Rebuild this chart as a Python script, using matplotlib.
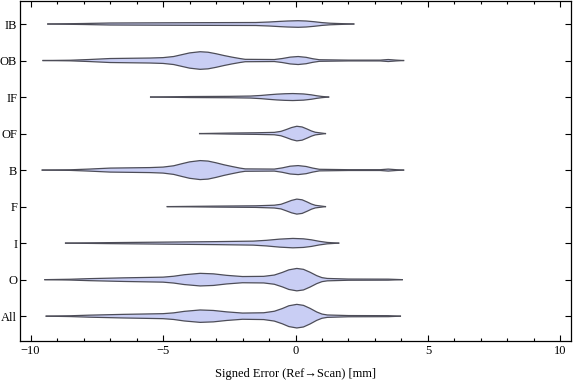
import numpy as np
import matplotlib.pyplot as plt
from matplotlib.ticker import MultipleLocator

# --- Data: violin outlines (x in mm, half-width ~ density) ---
categories = ['All', 'O', 'I', 'F', 'B', 'OF', 'IF', 'OB', 'IB']

profiles = {
    'IB': ([-9.35, -8.0, -7.0, -4.0, -1.5, -1.0, -0.6, -0.3, 0.1, 0.4, 0.7, 1.0, 1.3, 1.6, 2.2],
           [0, 0.5, 1.0, 1.3, 1.5, 2.0, 2.6, 3.0, 3.3, 3.0, 2.3, 1.4, 0.8, 0.5, 0]),
    'OB': ([-9.53, -8.5, -7.8, -7.0, -5.5, -5.0, -4.6, -4.3, -4.0, -3.6, -3.3, -3.0, -2.7,
            -2.4, -2.1, -1.9, -0.8, -0.5, -0.2, 0.1, 0.4, 0.65, 0.9, 2.0, 3.2, 3.5, 3.8, 4.08],
           [0, 0.3, 1.0, 2.0, 2.5, 2.9, 4.0, 5.8, 7.6, 8.8, 8.3, 6.8, 5.0,
            3.4, 2.0, 1.2, 1.0, 2.0, 3.4, 4.0, 3.2, 1.8, 0.8, 0.4, 0.4, 1.0, 0.4, 0]),
    'IF': ([-5.47, -4.0, -2.5, -1.7, -1.3, -1.0, -0.7, -0.4, -0.1, 0.3, 0.6, 0.8, 1.0, 1.25],
           [0, 0.5, 0.7, 1.0, 1.6, 2.3, 2.9, 3.3, 3.5, 3.1, 2.2, 1.3, 0.6, 0]),
    'OF': ([-3.62, -2.5, -1.5, -0.8, -0.55, -0.35, -0.15, 0.05, 0.25, 0.45, 0.6, 0.75, 0.9, 1.13],
           [0, 0.5, 0.8, 1.2, 2.2, 4.0, 6.0, 7.3, 6.6, 4.4, 2.6, 1.3, 0.8, 0]),
    'B': ([-9.56, -8.5, -7.8, -7.0, -5.5, -5.0, -4.6, -4.3, -4.0, -3.6, -3.3, -3.0, -2.7,
           -2.4, -2.1, -1.9, -0.8, -0.5, -0.2, 0.1, 0.4, 0.65, 0.9, 2.0, 3.2, 3.5, 3.8, 4.08],
          [0, 0.3, 1.0, 2.0, 2.5, 3.0, 4.3, 6.3, 8.2, 9.5, 9.0, 7.3, 5.3,
           3.6, 2.0, 1.2, 1.0, 2.2, 3.9, 4.5, 3.6, 2.0, 0.8, 0.4, 0.4, 1.0, 0.4, 0]),
    'F': ([-4.84, -3.0, -1.5, -0.8, -0.55, -0.35, -0.15, 0.05, 0.25, 0.45, 0.6, 0.75, 0.9, 1.13],
          [0, 0.5, 0.8, 1.4, 2.3, 4.2, 6.2, 7.5, 6.8, 4.5, 2.6, 1.3, 0.8, 0]),
    'I': ([-8.68, -7.0, -5.0, -3.0, -1.6, -1.1, -0.6, -0.1, 0.3, 0.6, 0.9, 1.2, 1.63],
          [0, 0.5, 1.0, 1.5, 2.0, 2.8, 4.0, 4.7, 4.3, 3.3, 1.8, 0.7, 0]),
    'O': ([-9.46, -8.5, -7.8, -6.5, -5.0, -4.6, -4.2, -3.6, -3.1, -2.6, -2.0, -1.2, -0.8,
           -0.5, -0.25, 0.05, 0.3, 0.55, 0.8, 1.0, 1.2, 2.0, 3.5, 4.03],
          [0, 0.4, 1.0, 1.8, 2.5, 3.4, 4.9, 6.3, 5.8, 4.3, 3.1, 3.3, 4.6,
           7.2, 9.8, 11.2, 10.3, 7.4, 4.0, 2.0, 1.2, 0.6, 0.5, 0]),
    'All': ([-9.41, -8.5, -7.8, -6.5, -5.0, -4.6, -4.2, -3.6, -3.1, -2.6, -2.0, -1.2, -0.8,
             -0.5, -0.25, 0.05, 0.3, 0.55, 0.8, 1.0, 1.2, 2.0, 3.5, 3.96],
            [0, 0.4, 1.0, 1.8, 2.5, 3.3, 4.8, 6.2, 5.7, 4.3, 3.1, 3.4, 4.9,
             7.6, 10.4, 11.8, 10.8, 7.8, 4.2, 2.1, 1.2, 0.6, 0.5, 0]),
}

WIDTH_SCALE = 1 / 36.5  # density units -> category spacing

plt.rcParams['font.family'] = ['Liberation Serif', 'DejaVu Serif']

fig = plt.figure(figsize=(5.76, 3.81), dpi=100)
ax = fig.add_axes([20 / 576, 1 - 341 / 381, 551 / 576, 340 / 381])

for i, cat in enumerate(categories):
    pos = i + 1
    x, d = profiles[cat]
    x = np.array(x)
    hw = np.array(d) * WIDTH_SCALE
    ax.fill_between(x, pos - hw, pos + hw, facecolor='#c9cef4', edgecolor='none', zorder=2)
    ax.plot(x, pos + hw, color='#4d4d58', lw=0.9, zorder=3, solid_joinstyle='round')
    ax.plot(x, pos - hw, color='#4d4d58', lw=0.9, zorder=3, solid_joinstyle='round')

ax.set_xlim(-10.4, 10.4)
ax.set_ylim(0.32, 9.63)
ax.set_yticks(range(1, len(categories) + 1))
ax.set_yticklabels(categories)
ax.xaxis.set_major_locator(MultipleLocator(5))
ax.xaxis.set_minor_locator(MultipleLocator(1))
ax.tick_params(axis='both', which='both', direction='in', top=True, right=True,
               labelsize=9, width=0.8)
ax.tick_params(axis='both', which='major', length=4.5)
ax.tick_params(axis='y', which='major', pad=2)
ax.tick_params(axis='x', which='major', pad=3)
ax.tick_params(axis='x', which='minor', length=2.5)
ax.tick_params(axis='y', which='minor', left=False, right=False)
for s in ax.spines.values():
    s.set_linewidth(0.9)

ax.set_xlabel('Signed Error (Ref\u2192Scan) [mm]', fontsize=9, labelpad=8)

fig.savefig('out.png', dpi=100)
